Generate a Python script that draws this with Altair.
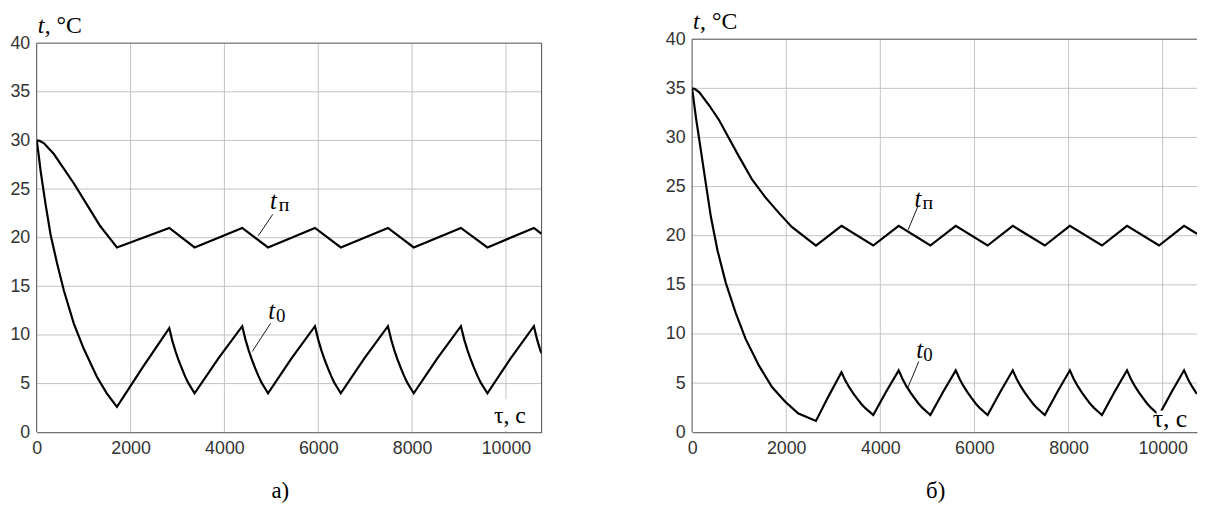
import altair as alt
import pandas as pd

# ---------------- panel а) ----------------
a_tp_x = [0, 60, 155, 366, 577, 789, 1070, 1352, 1563, 1710, 2825, 3365, 4380, 4930, 5930,
          6480, 7485, 8035, 9040, 9605, 10595, 10760]
a_tp_y = [30.0, 29.95, 29.7, 28.6, 27.1, 25.6, 23.4, 21.2, 19.9, 19.0, 21.0, 19.0, 21.0, 19.0,
          21.0, 19.0, 21.0, 19.0, 21.0, 19.0, 21.0, 20.4]
a_t0_x = [0, 42, 85, 190, 296, 437, 577, 789, 1000, 1282, 1493, 1710,
          2268, 2825, 2892, 2960, 3027, 3095, 3162, 3230, 3297, 3365,
          3872, 4380, 4449, 4517, 4586, 4655, 4724, 4792, 4861, 4930,
          5430, 5930, 5999, 6067, 6136, 6205, 6274, 6342, 6411, 6480,
          6982, 7485, 7554, 7622, 7691, 7760, 7829, 7897, 7966, 8035,
          8537, 9040, 9111, 9181, 9252, 9322, 9393, 9463, 9534, 9605,
          10100, 10595, 10664, 10732, 10760]
a_t0_y = [30.0, 28.5, 26.8, 23.4, 20.3, 17.3, 14.6, 11.2, 8.6, 5.7, 4.0, 2.6,
          6.75, 10.7, 9.36, 8.29, 7.35, 6.53, 5.74, 5.07, 4.54, 4.0,
          7.6, 10.9, 9.52, 8.42, 7.45, 6.6, 5.79, 5.1, 4.55, 4.0,
          7.6, 10.9, 9.52, 8.42, 7.45, 6.6, 5.79, 5.1, 4.55, 4.0,
          7.6, 10.9, 9.52, 8.42, 7.45, 6.6, 5.79, 5.1, 4.55, 4.0,
          7.6, 10.9, 9.52, 8.42, 7.45, 6.6, 5.79, 5.1, 4.55, 4.0,
          7.6, 10.9, 9.52, 8.42, 8.1]

# ---------------- panel б) ----------------
b_tp_x = [0, 60, 154, 365, 575, 786, 997, 1277, 1558, 1839, 2119, 2632, 3175, 3850, 4390,
          5063, 5603, 6280, 6815, 7496, 8028, 8710, 9243, 9924, 10455, 10730]
b_tp_y = [35.0, 34.93, 34.6, 33.25, 31.75, 29.9, 28.05, 25.7, 23.9, 22.35, 20.9, 19.0, 21.0,
          19.0, 21.0, 19.0, 21.0, 19.0, 21.0, 19.0, 21.0, 19.0, 21.0, 19.0, 21.0, 20.2]
b_t0_x = [0, 84, 189, 295, 400, 540, 716, 926, 1137, 1418, 1698, 1979, 2260, 2632,
          2904, 3175, 3259, 3344, 3428, 3512, 3597, 3681, 3766, 3850,
          4120, 4390, 4474, 4558, 4642, 4726, 4811, 4895, 4979, 5063,
          5333, 5603, 5688, 5772, 5857, 5941, 6026, 6111, 6195, 6280,
          6548, 6815, 6900, 6985, 7070, 7155, 7241, 7326, 7411, 7496,
          7762, 8028, 8113, 8199, 8284, 8369, 8454, 8540, 8625, 8710,
          8976, 9243, 9328, 9413, 9498, 9583, 9669, 9754, 9839, 9924,
          10190, 10455, 10539, 10624, 10708, 10730]
b_t0_y = [35.0, 31.95, 28.6, 25.2, 21.9, 18.5, 15.2, 12.15, 9.5, 6.8, 4.6, 3.1, 1.9, 1.15,
          3.7, 6.1, 5.23, 4.53, 3.93, 3.39, 2.88, 2.45, 2.10, 1.75,
          4.1, 6.3, 5.39, 4.66, 4.03, 3.47, 2.93, 2.48, 2.11, 1.75,
          4.1, 6.3, 5.39, 4.66, 4.03, 3.47, 2.93, 2.48, 2.11, 1.75,
          4.1, 6.3, 5.39, 4.66, 4.03, 3.47, 2.93, 2.48, 2.11, 1.75,
          4.1, 6.3, 5.39, 4.66, 4.03, 3.47, 2.93, 2.48, 2.11, 1.75,
          4.1, 6.3, 5.39, 4.66, 4.03, 3.47, 2.93, 2.48, 2.11, 1.75,
          4.1, 6.3, 5.39, 4.66, 4.03, 3.9]

x_ticks = [0, 2000, 4000, 6000, 8000, 10000]
y_ticks = [0, 5, 10, 15, 20, 25, 30, 35, 40]
grid_x = [2000, 4000, 6000, 8000, 10000]
grid_y = [5, 10, 15, 20, 25, 30, 35]
a_xmax = 10760
b_xmax = 10730

GRID = "#c2c2c2"
DARK = "#4a4a4a"
SERIF = "Liberation Serif"
SANS = "Liberation Sans"
H = 397


def panel(tp_x, tp_y, t0_x, t0_y, xmax, top, ann, caption, right_border):
    xs = alt.Scale(domain=[0, xmax], nice=False, zero=False)
    ys = alt.Scale(domain=[0, 40], nice=False, zero=False, range=[H, top])
    xax = alt.Axis(values=x_ticks, format="d", grid=False, ticks=False, domain=True,
                   domainColor=DARK, domainWidth=1, labelFont=SANS, labelFontSize=18,
                   labelColor="#333333", labelPadding=7, title=None, labelFlush=False,
                   labelOverlap=False)
    yax = alt.Axis(values=y_ticks, format="d", grid=False, ticks=False, domain=False,
                   labelFont=SANS, labelFontSize=18,
                   labelColor="#333333", labelPadding=7, title=None, labelFlush=False,
                   labelOverlap=False)

    def X(f):
        return alt.X(f, type="quantitative", scale=xs, axis=xax)

    def Y(f):
        return alt.Y(f, type="quantitative", scale=ys, axis=yax)

    one = pd.DataFrame({"k": [0]})
    layers = []
    # grid
    layers.append(alt.Chart(pd.DataFrame({"gx": grid_x, "g0": [0] * len(grid_x),
                                          "g1": [40] * len(grid_x)}))
                  .mark_rule(color=GRID, strokeWidth=1)
                  .encode(x=X("gx"), y=Y("g0"), y2="g1:Q"))
    layers.append(alt.Chart(pd.DataFrame({"gy": grid_y})).mark_rule(color=GRID, strokeWidth=1)
                  .encode(y=Y("gy")))
    # box
    layers.append(alt.Chart(pd.DataFrame({"top": [40]})).mark_rule(color=DARK, strokeWidth=1)
                  .encode(y=Y("top")))
    borders = [0] + ([xmax] if right_border else [])
    layers.append(alt.Chart(pd.DataFrame({"bx": borders, "b0": [0] * len(borders),
                                          "b1": [40] * len(borders)}))
                  .mark_rule(color=DARK, strokeWidth=1)
                  .encode(x=X("bx"), y=Y("b0"), y2="b1:Q"))

    df = pd.DataFrame({
        "x": tp_x + t0_x,
        "y": tp_y + t0_y,
        "s": ["tp"] * len(tp_x) + ["t0"] * len(t0_x),
        "i": list(range(len(tp_x))) + list(range(len(t0_x))),
    })
    layers.append(alt.Chart(df).mark_line(color="black", strokeWidth=2.2, clip=True,
                                          strokeJoin="miter")
                  .encode(x=X("x"), y=Y("y"), detail="s:N", order="i:Q"))

    # white box behind the τ label
    layers.append(alt.Chart(pd.DataFrame({"x1": [ann["box"][0]], "x2": [ann["box"][1]],
                                          "y1": [ann["box"][2]], "y2": [ann["box"][3]]}))
                  .mark_rect(color="white", clip=True)
                  .encode(x=X("x1"), x2="x2:Q", y=Y("y1"), y2="y2:Q"))

    # leader lines
    ld = pd.DataFrame(ann["leaders"], columns=["lx", "ly", "lx2", "ly2"])
    layers.append(alt.Chart(ld).mark_rule(color="black", strokeWidth=0.9)
                  .encode(x=X("lx"), y=Y("ly"), x2="lx2:Q", y2="ly2:Q"))

    # italic t labels with subscripts
    for (tx, ty, sb, sdx, sdy, sfs) in ann["tlabels"]:
        pos = pd.DataFrame({"tx": [tx], "ty": [ty]})
        layers.append(alt.Chart(pos).mark_text(text="t", align="left", baseline="alphabetic",
                                               font=SERIF, fontStyle="italic", fontSize=25,
                                               color="black")
                      .encode(x=X("tx"), y=Y("ty")))
        layers.append(alt.Chart(pos).mark_text(text=sb, align="left", baseline="alphabetic",
                                               font=SERIF, fontSize=sfs, dx=sdx, dy=sdy,
                                               color="black")
                      .encode(x=X("tx"), y=Y("ty")))

    # τ, c
    layers.append(alt.Chart(pd.DataFrame({"ux": [ann["tau"][0]], "uy": [ann["tau"][1]]}))
                  .mark_text(text="τ, c", align="left", baseline="alphabetic", font=SERIF,
                             fontSize=ann["tau"][2], color="black", clip=True)
                  .encode(x=X("ux"), y=Y("uy")))

    # axis title "t, °C" above the plot
    layers.append(alt.Chart(one).mark_text(text="t", align="left", baseline="alphabetic",
                                           font=SERIF, fontStyle="italic", fontSize=24,
                                           color="black")
                  .encode(x=alt.value(1), y=alt.value(top - 10)))
    layers.append(alt.Chart(one).mark_text(text=", °C", align="left", baseline="alphabetic",
                                           font=SERIF, fontSize=24, color="black")
                  .encode(x=alt.value(8), y=alt.value(top - 10)))
    # caption
    layers.append(alt.Chart(one).mark_text(text=caption, align="center", baseline="alphabetic",
                                           font=SERIF, fontSize=23, color="black")
                  .encode(x=alt.value(246), y=alt.value(H + 66)))

    return alt.layer(*layers).properties(width=510, height=H)


ann_a = {
    "box": [9700, 10530, 0.15, 3.4],
    "leaders": [[5030, 22.4, 4722, 20.2], [4985, 11.2, 4594, 8.3]],
    "tlabels": [[4970, 22.9, "п", 9, 2, 20], [4932, 11.6, "0", 8, 3, 19]],
    "tau": [9744, 0.95, 24],
}
ann_b = {
    "box": [9870, 10730, 0.15, 2.2],
    "leaders": [[4795, 22.95, 4590, 20.6], [4818, 7.2, 4590, 4.6]],
    "tlabels": [[4727, 22.9, "п", 8, 2, 20], [4765, 7.6, "0", 7, 3, 19]],
    "tau": [9787, 0.55, 26],
}

left = panel(a_tp_x, a_tp_y, a_t0_x, a_t0_y, a_xmax, 4, ann_a, "а)", True)
right = panel(b_tp_x, b_tp_y, b_t0_x, b_t0_y, b_xmax, 0, ann_b, "б)", False)

chart = (alt.hconcat(left, right, spacing=123)
         .properties(padding={"left": 1, "top": 0, "right": 0, "bottom": 0},
                     background="white")
         .configure_view(strokeWidth=0))

chart.save("out.html", embed_options={"renderer": "svg", "actions": False})
